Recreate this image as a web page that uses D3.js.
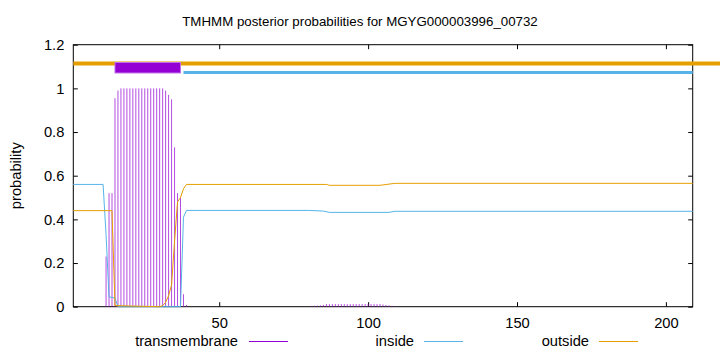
<!DOCTYPE html>
<html><head><meta charset="utf-8">
<script src="https://cdn.jsdelivr.net/npm/d3@7"></script>
<style>
body{margin:0;background:#fff}
svg{display:block}
text{font-family:"Liberation Sans",Arial,sans-serif;font-size:14.7px;fill:#000}
</style>
</head><body>
<svg id="c" width="720" height="352"></svg>
<script>
const title = "TMHMM posterior probabilities for MGYG000003996_00732";
const yLabel = "probability";
const seqStart = 1, seqEnd = 209;
const xTicks = [50, 100, 150, 200];
const yTicks = [0, 0.2, 0.4, 0.6, 0.8, 1, 1.2];
const yTickLabels = ["0", "0.2", "0.4", "0.6", "0.8", "1", "1.2"];

// transmembrane posterior (impulses), non-zero residues only
const tmResidues = [12,13,14,15,16,17,18,19,20,21,22,23,24,25,26,27,28,29,30,31,32,33,34,35,36,37,38,39,
  81,82,83,84,85,86,87,88,89,90,91,92,93,94,95,96,97,98,99,100,101,102,103,104,105,106,107,108,109];
const tmProb = [0.23,0.52,0.52,0.955,0.99,1,1,1,1,1,1,1,1,1,1,1,1,1,1,1,0.99,0.97,0.95,0.73,0.52,0.50,0.057,0.008,
  0.003,0.004,0.005,0.006,0.008,0.012,0.012,0.012,0.012,0.012,0.012,0.012,0.012,0.012,0.012,0.012,0.012,0.012,0.012,0.012,0.012,0.012,0.012,0.012,0.01,0.008,0.006,0.004,0.003];

// inside posterior (residues where the value changes)
const insideResidues = [1, 11, 12, 13, 15, 16, 37, 38, 39, 80, 85, 87, 107, 109, 209];
const insideProb = [0.56, 0.56, 0.33, 0.045, 0.04, 0, 0, 0.41, 0.441, 0.441, 0.438, 0.432, 0.432, 0.437, 0.437];

// outside posterior (residues where the value changes)
const outsideResidues = [1, 14, 15, 30, 31, 32, 33, 34, 35, 36, 37, 38, 39, 86, 87, 104, 109, 209];
const outsideProb = [0.44, 0.44, 0.005, 0, 0.005, 0.02, 0.05, 0.1, 0.3, 0.48, 0.5, 0.54, 0.56, 0.56, 0.556, 0.556, 0.565, 0.565];

// predicted topology bars at the top
const topoNames = ["outside", "transmembrane", "inside"];
const topoFrom = [1, 15, 38];
const topoTo = [218.2, 37, 209];
const topoLevel = [1.114, 1.095, 1.073];

const legendLabels = ["transmembrane", "inside", "outside"];
const colors = {transmembrane: "#9400d3", inside: "#56b4e9", outside: "#e69f00"};

const svg = d3.select("#c");
const L = 73.3, R = 692.7, T = 44.7, B = 306.7;
const x = d3.scaleLinear().domain([seqStart, seqEnd]).range([L, R]);
const y = d3.scaleLinear().domain([0, 1.2]).range([B, T]);

// title
svg.append("text").attr("x", 360).attr("y", 26).attr("text-anchor", "middle")
  .style("font-size", "13.3px").text(title);
// y label
svg.append("text").attr("transform", `translate(21,${(T + B) / 2}) rotate(-90)`)
  .attr("text-anchor", "middle").text(yLabel);

// axes (ticks inside, mirrored)
const tickLen = 4.5;
const gx = svg.append("g").attr("transform", `translate(0,${B})`)
  .call(d3.axisBottom(x).tickValues(xTicks).tickSize(-tickLen).tickPadding(11).tickFormat(d3.format("d")));
const gxt = svg.append("g").attr("transform", `translate(0,${T})`)
  .call(d3.axisTop(x).tickValues(xTicks).tickSize(-tickLen).tickFormat(""));
const gy = svg.append("g").attr("transform", `translate(${L},0)`)
  .call(d3.axisLeft(y).tickValues(yTicks).tickSize(-tickLen).tickPadding(9).tickFormat((d, i) => yTickLabels[i]));
const gyr = svg.append("g").attr("transform", `translate(${R},0)`)
  .call(d3.axisRight(y).tickValues(yTicks).tickSize(-tickLen).tickFormat(""));
[gx, gxt, gy, gyr].forEach(g => {
  g.select(".domain").remove();
  g.selectAll(".tick line").attr("stroke", "#000").attr("stroke-width", 1);
  g.selectAll("text").style("font-size", "14.7px").attr("font-family", "Liberation Sans, Arial, sans-serif");
});
gx.selectAll("text").attr("dy", "0.71em");

// border
svg.append("rect").attr("x", L).attr("y", T).attr("width", R - L).attr("height", B - T)
  .attr("fill", "none").attr("stroke", "#000").attr("stroke-width", 1);

// impulses (transmembrane)
svg.append("g").selectAll("line").data(tmResidues).join("line")
  .attr("x1", d => x(d)).attr("x2", d => x(d))
  .attr("y1", y(0)).attr("y2", (d, i) => y(tmProb[i]))
  .attr("stroke", colors.transmembrane).attr("stroke-opacity", 0.7).attr("stroke-width", 1);

// inside / outside lines
const line = d3.line().x(d => x(d[0])).y(d => y(d[1]));
svg.append("path").datum(insideResidues.map((r, i) => [r, insideProb[i]]))
  .attr("d", line).attr("fill", "none").attr("stroke", colors.inside).attr("stroke-width", 1);
svg.append("path").datum(outsideResidues.map((r, i) => [r, outsideProb[i]]))
  .attr("d", line).attr("fill", "none").attr("stroke", colors.outside).attr("stroke-width", 1);

// topology bars
svg.append("line").attr("x1", x(topoFrom[0])).attr("x2", x(topoTo[0]))
  .attr("y1", y(topoLevel[0])).attr("y2", y(topoLevel[0]))
  .attr("stroke", colors.outside).attr("stroke-width", 4);
svg.append("line").attr("x1", x(topoFrom[2])).attr("x2", x(topoTo[2]))
  .attr("y1", y(topoLevel[2])).attr("y2", y(topoLevel[2]))
  .attr("stroke", colors.inside).attr("stroke-width", 3);
svg.append("rect").attr("x", x(topoFrom[1])).attr("width", x(topoTo[1]) - x(topoFrom[1]))
  .attr("y", y(1.1185)).attr("height", y(1.0705) - y(1.1185))
  .attr("fill", colors.transmembrane).attr("stroke", "#c070e8").attr("stroke-width", 1);

// legend
const legTextRight = [238, 414, 589];
const legLineStart = [249, 424, 599];
legendLabels.forEach((lab, i) => {
  svg.append("text").attr("x", legTextRight[i]).attr("y", 346).attr("text-anchor", "end").text(lab);
  svg.append("line").attr("x1", legLineStart[i]).attr("x2", legLineStart[i] + 39)
    .attr("y1", 341.5).attr("y2", 341.5).attr("stroke", colors[lab]).attr("stroke-width", 1);
});
</script>
</body></html>
